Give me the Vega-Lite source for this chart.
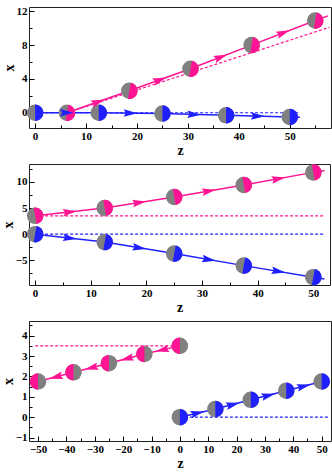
{
  "$schema": "https://vega.github.io/schema/vega-lite/v6.json",
  "padding": {"left": 0, "top": 4, "right": 0, "bottom": 0},
  "config": {
    "view": {"stroke": "#222222", "strokeWidth": 1},
    "font": "Liberation Serif",
    "axis": {
      "domain": false, "grid": false,
      "labelFont": "Liberation Serif", "labelFontWeight": "bold", "labelFontSize": 11, "labelColor": "black",
      "titleFont": "Liberation Serif", "titleFontWeight": "bold", "titleFontSize": 14, "titleColor": "black",
      "tickColor": "black", "tickWidth": 1, "tickSize": -5, "labelPadding": 7
    },
    "axisX": {"titlePadding": 2},
    "axisY": {"titlePadding": 0},
    "concat": {"spacing": 5}
  },
  "datasets": {
    "paths": [
      {"panel": 1, "series": "pink", "z": 6.25, "x": 0, "ball": true, "tilt": 10},
      {"panel": 1, "series": "pink", "z": 18.5, "x": 2.6, "ball": true, "tilt": 10},
      {"panel": 1, "series": "pink", "z": 30.5, "x": 5.2, "ball": true, "tilt": 10},
      {"panel": 1, "series": "pink", "z": 42.5, "x": 8.0, "ball": true, "tilt": 10},
      {"panel": 1, "series": "pink", "z": 55, "x": 10.9, "ball": true, "tilt": 10},
      {"panel": 1, "series": "pink", "z": 57.5, "x": 11.45, "ball": false, "tilt": 10},
      {"panel": 1, "series": "blue", "z": 0, "x": 0, "ball": true, "tilt": 0},
      {"panel": 1, "series": "blue", "z": 12.5, "x": 0, "ball": true, "tilt": 0},
      {"panel": 1, "series": "blue", "z": 25, "x": -0.1, "ball": true, "tilt": 0},
      {"panel": 1, "series": "blue", "z": 37.5, "x": -0.3, "ball": true, "tilt": 0},
      {"panel": 1, "series": "blue", "z": 50, "x": -0.5, "ball": true, "tilt": 0},
      {"panel": 1, "series": "blue", "z": 52, "x": -0.52, "ball": false, "tilt": 0},
      {"panel": 2, "series": "pink", "z": 0, "x": 3.5, "ball": true, "tilt": -10},
      {"panel": 2, "series": "pink", "z": 12.5, "x": 5.0, "ball": true, "tilt": -10},
      {"panel": 2, "series": "pink", "z": 25, "x": 7.1, "ball": true, "tilt": -10},
      {"panel": 2, "series": "pink", "z": 37.5, "x": 9.4, "ball": true, "tilt": -10},
      {"panel": 2, "series": "pink", "z": 50, "x": 11.8, "ball": true, "tilt": -10},
      {"panel": 2, "series": "pink", "z": 52, "x": 12.15, "ball": false, "tilt": -10},
      {"panel": 2, "series": "blue", "z": 0, "x": 0, "ball": true, "tilt": 10},
      {"panel": 2, "series": "blue", "z": 12.5, "x": -1.5, "ball": true, "tilt": 10},
      {"panel": 2, "series": "blue", "z": 25, "x": -3.7, "ball": true, "tilt": 10},
      {"panel": 2, "series": "blue", "z": 37.5, "x": -6.0, "ball": true, "tilt": 10},
      {"panel": 2, "series": "blue", "z": 50, "x": -8.2, "ball": true, "tilt": 10},
      {"panel": 2, "series": "blue", "z": 52, "x": -8.55, "ball": false, "tilt": 10},
      {"panel": 3, "series": "pink", "z": 0, "x": 3.5, "ball": true, "tilt": 180},
      {"panel": 3, "series": "pink", "z": -12.5, "x": 3.1, "ball": true, "tilt": 180},
      {"panel": 3, "series": "pink", "z": -25, "x": 2.65, "ball": true, "tilt": 180},
      {"panel": 3, "series": "pink", "z": -37.5, "x": 2.2, "ball": true, "tilt": 180},
      {"panel": 3, "series": "pink", "z": -50, "x": 1.75, "ball": true, "tilt": 180},
      {"panel": 3, "series": "blue", "z": 0, "x": 0, "ball": true, "tilt": 0},
      {"panel": 3, "series": "blue", "z": 12.5, "x": 0.4, "ball": true, "tilt": 0},
      {"panel": 3, "series": "blue", "z": 25, "x": 0.85, "ball": true, "tilt": 0},
      {"panel": 3, "series": "blue", "z": 37.5, "x": 1.3, "ball": true, "tilt": 0},
      {"panel": 3, "series": "blue", "z": 50, "x": 1.75, "ball": true, "tilt": 0}
    ],
    "refs": [
      {"panel": 1, "series": "pink", "z": 6.25, "x": 0},
      {"panel": 1, "series": "pink", "z": 57.8, "x": 10.1},
      {"panel": 1, "series": "blue", "z": 0, "x": 0},
      {"panel": 1, "series": "blue", "z": 52, "x": 0},
      {"panel": 2, "series": "pink", "z": 0, "x": 3.5},
      {"panel": 2, "series": "pink", "z": 52, "x": 3.5},
      {"panel": 2, "series": "blue", "z": 0, "x": 0},
      {"panel": 2, "series": "blue", "z": 52, "x": 0},
      {"panel": 3, "series": "pink", "z": -51, "x": 3.5},
      {"panel": 3, "series": "pink", "z": 0, "x": 3.5},
      {"panel": 3, "series": "blue", "z": 0, "x": 0},
      {"panel": 3, "series": "blue", "z": 52.5, "x": 0}
    ],
    "arrows": [
      {"panel": 1, "series": "pink", "z": 12.4, "x": 1.3, "heading": -19.5},
      {"panel": 1, "series": "pink", "z": 24.5, "x": 3.9, "heading": -19.9},
      {"panel": 1, "series": "pink", "z": 36.5, "x": 6.6, "heading": -21.3},
      {"panel": 1, "series": "pink", "z": 48.75, "x": 9.45, "heading": -21.1},
      {"panel": 1, "series": "blue", "z": 6.25, "x": 0, "heading": 0},
      {"panel": 1, "series": "blue", "z": 18.75, "x": -0.05, "heading": 1},
      {"panel": 1, "series": "blue", "z": 31.25, "x": -0.2, "heading": 1.5},
      {"panel": 1, "series": "blue", "z": 43.75, "x": -0.4, "heading": 1.5},
      {"panel": 2, "series": "pink", "z": 6.25, "x": 4.25, "heading": -6.5},
      {"panel": 2, "series": "pink", "z": 18.75, "x": 6.05, "heading": -9.1},
      {"panel": 2, "series": "pink", "z": 31.25, "x": 8.25, "heading": -9.9},
      {"panel": 2, "series": "pink", "z": 43.75, "x": 10.6, "heading": -10.3},
      {"panel": 2, "series": "blue", "z": 6.25, "x": -0.75, "heading": 6.5},
      {"panel": 2, "series": "blue", "z": 18.75, "x": -2.6, "heading": 9.5},
      {"panel": 2, "series": "blue", "z": 31.25, "x": -4.85, "heading": 9.9},
      {"panel": 2, "series": "blue", "z": 43.75, "x": -7.1, "heading": 9.5},
      {"panel": 3, "series": "pink", "z": -6.25, "x": 3.3, "heading": 167},
      {"panel": 3, "series": "pink", "z": -18.75, "x": 2.87, "heading": 165.4},
      {"panel": 3, "series": "pink", "z": -31.25, "x": 2.42, "heading": 165.4},
      {"panel": 3, "series": "pink", "z": -43.75, "x": 1.97, "heading": 165.4},
      {"panel": 3, "series": "blue", "z": 6.25, "x": 0.2, "heading": -13},
      {"panel": 3, "series": "blue", "z": 18.75, "x": 0.62, "heading": -14.6},
      {"panel": 3, "series": "blue", "z": 31.25, "x": 1.07, "heading": -14.6},
      {"panel": 3, "series": "blue", "z": 43.75, "x": 1.52, "heading": -14.6}
    ]
  },
  "vconcat": [
    {
      "width": 302, "height": 121,
      "resolve": {"axis": {"x": "independent", "y": "independent"}},
      "encoding": {
        "x": {"field": "z", "type": "quantitative", "scale": {"domain": [-1.2, 58.1], "nice": false, "zero": false}, "axis": null},
        "y": {"field": "x", "type": "quantitative", "scale": {"domain": [-1.8, 12.5], "nice": false, "zero": false}, "axis": null}
      },
      "layer": [
        {"data": {"name": "refs"}, "transform": [{"filter": "datum.panel == 1"}],
          "mark": {"type": "line", "strokeDash": [3, 2], "strokeWidth": 1.2},
          "encoding": {
            "x": {"field": "z", "type": "quantitative", "title": "z", "scale": {"domain": [-1.2, 58.1], "nice": false, "zero": false},
              "axis": {"orient": "bottom", "values": [0, 10, 20, 30, 40, 50]}},
            "y": {"field": "x", "type": "quantitative", "title": "x", "scale": {"domain": [-1.8, 12.5], "nice": false, "zero": false},
              "axis": {"orient": "left", "values": [0, 4, 8, 12]}},
            "detail": {"field": "series"}, "color": {"field": "series", "scale": {"domain": ["pink", "blue"], "range": ["#ff1493", "#2020ff"]}, "legend": null}}},
        {"data": {"name": "paths"}, "transform": [{"filter": "datum.panel == 1"}],
          "mark": {"type": "line", "strokeWidth": 1.5},
          "encoding": {
            "x": {"field": "z", "type": "quantitative", "title": null, "scale": {"domain": [-1.2, 58.1], "nice": false, "zero": false},
              "axis": {"orient": "bottom", "values": [5, 15, 25, 35, 45, 55], "labels": false, "tickSize": -3}},
            "y": {"field": "x", "type": "quantitative", "title": null, "scale": {"domain": [-1.8, 12.5], "nice": false, "zero": false},
              "axis": {"orient": "left", "values": [2, 6, 10], "labels": false, "tickSize": -3}},
            "detail": {"field": "series"}, "color": {"field": "series", "scale": {"domain": ["pink", "blue"], "range": ["#ff1493", "#2020ff"]}, "legend": null}}},
        {"data": {"name": "paths"}, "transform": [{"filter": "datum.panel == 1 && datum.ball"}],
          "mark": {"type": "point", "shape": "circle", "filled": true, "size": 272, "opacity": 1, "color": "#808080"}},
        {"data": {"name": "paths"}, "transform": [{"filter": "datum.panel == 1 && datum.ball"}],
          "mark": {"type": "point", "shape": "M0,-1A1,1,0,0,1,0,1Z", "filled": true, "size": 272, "opacity": 1},
          "encoding": {"angle": {"field": "tilt", "type": "quantitative", "scale": null},
            "color": {"field": "series", "scale": {"domain": ["pink", "blue"], "range": ["#ff1493", "#0000ff"]}, "legend": null}}},
        {"data": {"name": "arrows"}, "transform": [{"filter": "datum.panel == 1"}],
          "mark": {"type": "point", "shape": "M1,0L-1,-0.55L-0.7,0L-1,0.55Z", "filled": true, "size": 190, "opacity": 1},
          "encoding": {"angle": {"field": "heading", "type": "quantitative", "scale": null},
            "color": {"field": "series", "scale": {"domain": ["pink", "blue"], "range": ["#ff1493", "#0000ff"]}, "legend": null}}}
      ]
    },
    {
      "width": 301, "height": 121,
      "resolve": {"axis": {"x": "independent", "y": "independent"}},
      "encoding": {
        "x": {"field": "z", "type": "quantitative", "scale": {"domain": [-1.1, 53], "nice": false, "zero": false}, "axis": null},
        "y": {"field": "x", "type": "quantitative", "scale": {"domain": [-9.7, 13.4], "nice": false, "zero": false}, "axis": null}
      },
      "layer": [
        {"data": {"name": "refs"}, "transform": [{"filter": "datum.panel == 2"}],
          "mark": {"type": "line", "strokeDash": [3, 2], "strokeWidth": 1.2},
          "encoding": {
            "x": {"field": "z", "type": "quantitative", "title": "z", "scale": {"domain": [-1.1, 53], "nice": false, "zero": false},
              "axis": {"orient": "bottom", "values": [0, 10, 20, 30, 40, 50]}},
            "y": {"field": "x", "type": "quantitative", "title": "x", "scale": {"domain": [-9.7, 13.4], "nice": false, "zero": false},
              "axis": {"orient": "left", "values": [-5, 0, 5, 10]}},
            "detail": {"field": "series"}, "color": {"field": "series", "scale": {"domain": ["pink", "blue"], "range": ["#ff1493", "#2020ff"]}, "legend": null}}},
        {"data": {"name": "paths"}, "transform": [{"filter": "datum.panel == 2"}],
          "mark": {"type": "line", "strokeWidth": 1.5},
          "encoding": {
            "x": {"field": "z", "type": "quantitative", "title": null, "scale": {"domain": [-1.1, 53], "nice": false, "zero": false},
              "axis": {"orient": "bottom", "values": [5, 15, 25, 35, 45], "labels": false, "tickSize": -3}},
            "y": {"field": "x", "type": "quantitative", "title": null, "scale": {"domain": [-9.7, 13.4], "nice": false, "zero": false},
              "axis": {"orient": "left", "values": [-7.5, -2.5, 2.5, 7.5, 12.5], "labels": false, "tickSize": -3}},
            "detail": {"field": "series"}, "color": {"field": "series", "scale": {"domain": ["pink", "blue"], "range": ["#ff1493", "#2020ff"]}, "legend": null}}},
        {"data": {"name": "paths"}, "transform": [{"filter": "datum.panel == 2 && datum.ball"}],
          "mark": {"type": "point", "shape": "circle", "filled": true, "size": 272, "opacity": 1, "color": "#808080"}},
        {"data": {"name": "paths"}, "transform": [{"filter": "datum.panel == 2 && datum.ball"}],
          "mark": {"type": "point", "shape": "M0,-1A1,1,0,0,1,0,1Z", "filled": true, "size": 272, "opacity": 1},
          "encoding": {"angle": {"field": "tilt", "type": "quantitative", "scale": null},
            "color": {"field": "series", "scale": {"domain": ["pink", "blue"], "range": ["#ff1493", "#0000ff"]}, "legend": null}}},
        {"data": {"name": "arrows"}, "transform": [{"filter": "datum.panel == 2"}],
          "mark": {"type": "point", "shape": "M1,0L-1,-0.55L-0.7,0L-1,0.55Z", "filled": true, "size": 190, "opacity": 1},
          "encoding": {"angle": {"field": "heading", "type": "quantitative", "scale": null},
            "color": {"field": "series", "scale": {"domain": ["pink", "blue"], "range": ["#ff1493", "#0000ff"]}, "legend": null}}}
      ]
    },
    {
      "width": 302, "height": 120,
      "resolve": {"axis": {"x": "independent", "y": "independent"}},
      "encoding": {
        "x": {"field": "z", "type": "quantitative", "scale": {"domain": [-53.2, 53.3], "nice": false, "zero": false}, "axis": null},
        "y": {"field": "x", "type": "quantitative", "scale": {"domain": [-1.17, 4.72], "nice": false, "zero": false}, "axis": null}
      },
      "layer": [
        {"data": {"name": "refs"}, "transform": [{"filter": "datum.panel == 3"}],
          "mark": {"type": "line", "strokeDash": [3, 2], "strokeWidth": 1.2},
          "encoding": {
            "x": {"field": "z", "type": "quantitative", "title": "z", "scale": {"domain": [-53.2, 53.3], "nice": false, "zero": false},
              "axis": {"orient": "bottom", "values": [-50, -40, -30, -20, -10, 0, 10, 20, 30, 40, 50]}},
            "y": {"field": "x", "type": "quantitative", "title": "x", "scale": {"domain": [-1.17, 4.72], "nice": false, "zero": false},
              "axis": {"orient": "left", "values": [-1, 0, 1, 2, 3, 4], "format": "d"}},
            "detail": {"field": "series"}, "color": {"field": "series", "scale": {"domain": ["pink", "blue"], "range": ["#ff1493", "#2020ff"]}, "legend": null}}},
        {"data": {"name": "paths"}, "transform": [{"filter": "datum.panel == 3"}],
          "mark": {"type": "line", "strokeWidth": 1.5},
          "encoding": {
            "x": {"field": "z", "type": "quantitative", "title": null, "scale": {"domain": [-53.2, 53.3], "nice": false, "zero": false},
              "axis": {"orient": "bottom", "values": [-45, -35, -25, -15, -5, 5, 15, 25, 35, 45], "labels": false, "tickSize": -3}},
            "y": {"field": "x", "type": "quantitative", "title": null, "scale": {"domain": [-1.17, 4.72], "nice": false, "zero": false},
              "axis": {"orient": "left", "values": [-0.5, 0.5, 1.5, 2.5, 3.5, 4.5], "labels": false, "tickSize": -3}},
            "detail": {"field": "series"}, "color": {"field": "series", "scale": {"domain": ["pink", "blue"], "range": ["#ff1493", "#2020ff"]}, "legend": null}}},
        {"data": {"name": "paths"}, "transform": [{"filter": "datum.panel == 3 && datum.ball"}],
          "mark": {"type": "point", "shape": "circle", "filled": true, "size": 272, "opacity": 1, "color": "#808080"}},
        {"data": {"name": "paths"}, "transform": [{"filter": "datum.panel == 3 && datum.ball"}],
          "mark": {"type": "point", "shape": "M0,-1A1,1,0,0,1,0,1Z", "filled": true, "size": 272, "opacity": 1},
          "encoding": {"angle": {"field": "tilt", "type": "quantitative", "scale": null},
            "color": {"field": "series", "scale": {"domain": ["pink", "blue"], "range": ["#ff1493", "#0000ff"]}, "legend": null}}},
        {"data": {"name": "arrows"}, "transform": [{"filter": "datum.panel == 3"}],
          "mark": {"type": "point", "shape": "M1,0L-1,-0.55L-0.7,0L-1,0.55Z", "filled": true, "size": 190, "opacity": 1},
          "encoding": {"angle": {"field": "heading", "type": "quantitative", "scale": null},
            "color": {"field": "series", "scale": {"domain": ["pink", "blue"], "range": ["#ff1493", "#0000ff"]}, "legend": null}}}
      ]
    }
  ]
}
